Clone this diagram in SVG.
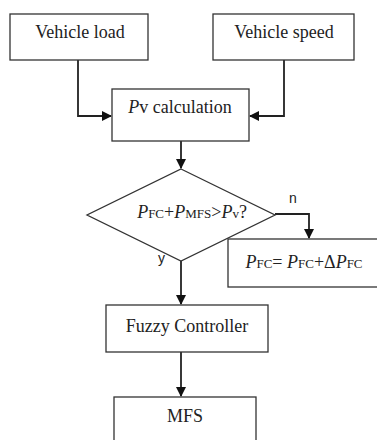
<svg xmlns="http://www.w3.org/2000/svg" width="377" height="440" viewBox="0 0 377 440">
<defs>
<style>
.box{fill:#fff;stroke:#333;stroke-width:1.3}
.t{font-family:"Liberation Serif","Times New Roman",serif;font-size:18px;fill:#222;text-anchor:middle}
.l{font-family:"Liberation Sans",Arial,sans-serif;font-size:14px;fill:#222}
.c{fill:none;stroke:#222;stroke-width:1.8}
.s{font-size:13px}
</style>
<marker id="ah" markerWidth="10" markerHeight="10" refX="9" refY="5" orient="auto" markerUnits="userSpaceOnUse">
<path d="M0,0 L10,5 L0,10 Z" fill="#111"/>
</marker>
</defs>
<rect width="377" height="440" fill="#fff"/>
<g id="connectors">
<polyline class="c" points="78,60 78,116 111,116" marker-end="url(#ah)"/>
<polyline class="c" points="284,60 284,116 250,116" marker-end="url(#ah)"/>
<line class="c" x1="181" y1="141" x2="181" y2="168" marker-end="url(#ah)"/>
<polyline class="c" points="275,214 309,214 309,238" marker-end="url(#ah)"/>
<line class="c" x1="181" y1="261" x2="181" y2="304" marker-end="url(#ah)"/>
<line class="c" x1="181" y1="352" x2="181" y2="396" marker-end="url(#ah)"/>
<text class="l" x="289" y="203">n</text>
<text class="l" x="158" y="263">y</text>
</g>
<g id="vehicle-load">
<rect class="box" x="10" y="14" width="138" height="46"/>
<text class="t" x="80" y="38">Vehicle load</text>
</g>
<g id="vehicle-speed">
<rect class="box" x="213" y="14" width="141" height="46"/>
<text class="t" x="284" y="38">Vehicle speed</text>
</g>
<g id="pv-calc">
<rect class="box" x="112" y="89" width="137" height="52"/>
<text class="t" x="180" y="113"><tspan font-style="italic">P</tspan>v calculation</text>
</g>
<g id="decision">
<polygon class="box" points="181,169 275,215 181,261 87,215"/>
<text class="t" x="192" y="218"><tspan font-style="italic">P</tspan><tspan class="s">FC</tspan>+<tspan font-style="italic">P</tspan><tspan class="s">MFS</tspan>&gt;<tspan font-style="italic">P</tspan><tspan class="s">v</tspan>?</text>
</g>
<g id="pfc-update">
<rect class="box" x="228" y="239" width="150" height="48"/>
<text class="t" x="304" y="268"><tspan font-style="italic">P</tspan><tspan class="s">FC</tspan>= <tspan font-style="italic">P</tspan><tspan class="s">FC</tspan>+Δ<tspan font-style="italic">P</tspan><tspan class="s">FC</tspan></text>
</g>
<g id="fuzzy-controller">
<rect class="box" x="106" y="305" width="162" height="47"/>
<text class="t" x="187" y="332">Fuzzy Controller</text>
</g>
<g id="mfs">
<rect class="box" x="114" y="397" width="142" height="50"/>
<text class="t" x="185" y="422">MFS</text>
</g>
</svg>
